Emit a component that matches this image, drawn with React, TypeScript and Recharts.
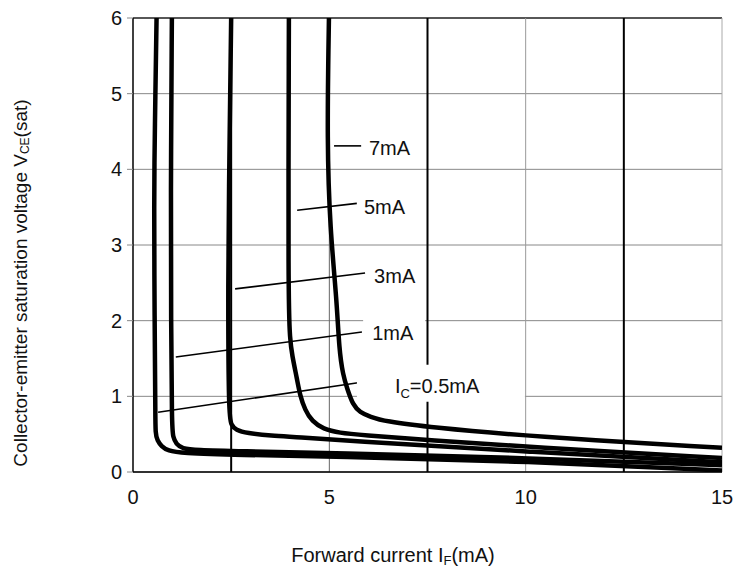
import React from "react";
import {
  ComposedChart,
  Line,
  XAxis,
  YAxis,
  CartesianGrid,
  ReferenceLine,
  ReferenceDot,
} from "recharts";

const FONT = "'Liberation Sans', Arial, Helvetica, sans-serif";

// Forward current IF (mA) -> VCE(sat) (V), one curve per collector current
const ic05 = [
  { f: 0.6, v: 6.0 }, { f: 0.555, v: 4.5 }, { f: 0.535, v: 3.6 }, { f: 0.55, v: 2.0 },
  { f: 0.57, v: 0.8 }, { f: 0.57, v: 0.5 }, { f: 0.62, v: 0.42 }, { f: 0.72, v: 0.34 },
  { f: 0.9, v: 0.28 }, { f: 1.2, v: 0.25 }, { f: 2.7, v: 0.225 }, { f: 5.0, v: 0.205 },
  { f: 10.1, v: 0.14 }, { f: 15, v: 0.02 },
];
const ic1 = [
  { f: 0.99, v: 6.0 }, { f: 0.96, v: 3.6 }, { f: 0.97, v: 2.0 }, { f: 0.99, v: 0.6 },
  { f: 1.02, v: 0.46 }, { f: 1.1, v: 0.37 }, { f: 1.25, v: 0.31 }, { f: 1.6, v: 0.29 },
  { f: 2.7, v: 0.275 }, { f: 5.0, v: 0.25 }, { f: 10.1, v: 0.185 }, { f: 15, v: 0.09 },
];
const ic3 = [
  { f: 2.5, v: 6.0 }, { f: 2.44, v: 3.6 }, { f: 2.42, v: 2.27 }, { f: 2.44, v: 0.75 },
  { f: 2.5, v: 0.62 }, { f: 2.62, v: 0.555 }, { f: 2.9, v: 0.515 }, { f: 3.5, v: 0.48 },
  { f: 4.25, v: 0.46 }, { f: 5.27, v: 0.42 }, { f: 10.1, v: 0.265 }, { f: 15, v: 0.13 },
];
const ic5 = [
  { f: 3.97, v: 6.0 }, { f: 3.95, v: 2.27 }, { f: 4.0, v: 1.74 }, { f: 4.05, v: 1.55 },
  { f: 4.18, v: 1.22 }, { f: 4.25, v: 1.02 }, { f: 4.38, v: 0.82 }, { f: 4.56, v: 0.67 },
  { f: 4.84, v: 0.57 }, { f: 5.27, v: 0.515 }, { f: 5.78, v: 0.49 }, { f: 7.56, v: 0.42 },
  { f: 10.1, v: 0.33 }, { f: 15, v: 0.185 },
];
const ic7 = [
  { f: 4.99, v: 6.0 }, { f: 4.94, v: 4.35 }, { f: 5.02, v: 3.2 }, { f: 5.19, v: 2.27 },
  { f: 5.25, v: 1.61 }, { f: 5.35, v: 1.28 }, { f: 5.45, v: 1.11 }, { f: 5.6, v: 0.885 },
  { f: 5.78, v: 0.79 }, { f: 6.04, v: 0.73 }, { f: 6.42, v: 0.67 }, { f: 7.56, v: 0.59 },
  { f: 10.1, v: 0.47 }, { f: 15, v: 0.32 },
];
const curves = [ic05, ic1, ic3, ic5, ic7];

const xTicks = [0, 5, 10, 15];
const yTicks = [0, 1, 2, 3, 4, 5, 6];

// vertical grid lines (the 2.5 / 7.5 / 12.5 ones are black in the original)
const gridX = [2.5, 5, 7.5, 10, 12.5, 15];
const gridXStyle: Record<number, { stroke: string; w: number }> = {
  2.5: { stroke: "#000", w: 2 },
  5: { stroke: "#666", w: 1 },
  7.5: { stroke: "#000", w: 2 },
  10: { stroke: "#999", w: 1 },
  12.5: { stroke: "#000", w: 2 },
  15: { stroke: "#aaa", w: 1 },
};

// leader lines from label to curve
const leaders = [
  [{ x: 5.12, y: 4.31 }, { x: 5.81, y: 4.31 }],
  [{ x: 4.18, y: 3.46 }, { x: 5.7, y: 3.55 }],
  [{ x: 2.6, y: 2.42 }, { x: 5.91, y: 2.63 }],
  [{ x: 1.09, y: 1.52 }, { x: 5.83, y: 1.85 }],
  [{ x: 0.64, y: 0.79 }, { x: 5.73, y: 1.18 }],
];

// curve labels: text start (x) and vertical centre (y)
const labels = [
  { main: "7mA", sub: "", x: 6.01, y: 4.28 },
  { main: "5mA", sub: "", x: 5.88, y: 3.5 },
  { main: "3mA", sub: "", x: 6.14, y: 2.59 },
  { main: "1mA", sub: "", x: 6.09, y: 1.84 },
  { main: "=0.5mA", sub: "C", x: 6.67, y: 1.14 },
];
// white box behind each label, px relative to the text anchor
const labelBox = [
  { l: 6, r: 50, t: 15, b: 15 },
  { l: 6, r: 50, t: 15, b: 15 },
  { l: 6, r: 50, t: 15, b: 15 },
  { l: 9, r: 53, t: 16, b: 16 },
  { l: 38, r: 130, t: 21, b: 16 },
];

const CurveLabel = (props: any) => {
  const { cx, cy, idx } = props;
  const lb = labels[idx];
  const box = labelBox[idx];
  return (
    <g>
      <rect x={cx - box.l} y={cy - box.t} width={box.l + box.r} height={box.t + box.b} fill="#fff" />
      <text x={cx} y={cy} dy={7} fontSize={20} fontFamily={FONT} fill="#111">
        {lb.sub ? (
          <>
            <tspan>I</tspan>
            <tspan fontSize={13} dy={5}>{lb.sub}</tspan>
            <tspan dy={-5}>{lb.main}</tspan>
          </>
        ) : (
          lb.main
        )}
      </text>
    </g>
  );
};

const YTitle = ({ viewBox }: any) => {
  const x = viewBox.x + 20;
  const y = viewBox.y + viewBox.height / 2 + 38;
  return (
    <text x={x} y={y} transform={`rotate(-90 ${x} ${y})`} textAnchor="middle" dominantBaseline="central"
      fontSize={19} fontFamily={FONT} fill="#111">
      <tspan>Collector-emitter saturation voltage V</tspan>
      <tspan fontSize={12} dy={5}>CE</tspan>
      <tspan dy={-5}>(sat)</tspan>
    </text>
  );
};

const XTitle = ({ viewBox }: any) => {
  const x = viewBox.x + 260;
  const y = viewBox.y + 83;
  return (
    <text x={x} y={y} textAnchor="middle" dominantBaseline="central" fontSize={20} fontFamily={FONT} fill="#111">
      <tspan>Forward current I</tspan>
      <tspan fontSize={13} dy={5}>F</tspan>
      <tspan dy={-5}>(mA)</tspan>
    </text>
  );
};

export default function App() {
  return (
    <div style={{ position: "absolute", left: 0, top: 0, background: "#fff" }}>
      <ComposedChart width={735} height={574} margin={{ top: 18, right: 13, left: 0, bottom: 0 }}>
        <CartesianGrid vertical={false} stroke="#888" strokeWidth={1} />
        <XAxis
          dataKey="f"
          type="number"
          domain={[0, 15]}
          ticks={xTicks}
          allowDataOverflow
          height={102}
          tickLine={false}
          tickSize={8}
          tickMargin={10}
          axisLine={{ stroke: "#000", strokeWidth: 1.5 }}
          tick={{ fontSize: 20, fontFamily: FONT, fill: "#111" }}
          label={{ content: <XTitle /> }}
        />
        <YAxis
          type="number"
          domain={[0, 6]}
          ticks={yTicks}
          allowDataOverflow
          width={133}
          tickSize={6}
          tickMargin={5}
          tickLine={{ stroke: "#888" }}
          axisLine={{ stroke: "#000", strokeWidth: 1.5 }}
          tick={{ fontSize: 20, fontFamily: FONT, fill: "#111" }}
          label={{ content: <YTitle /> }}
        />
        <ReferenceLine y={6} stroke="#333" strokeWidth={1.5} />
        {gridX.map((g) => (
          <ReferenceLine key={`gx-${g}`} x={g} stroke={gridXStyle[g].stroke} strokeWidth={gridXStyle[g].w} />
        ))}
        {leaders.map((seg, i) => (
          <ReferenceLine key={`ld-${i}`} segment={seg} stroke="#000" strokeWidth={1.6} />
        ))}
        {labels.map((lb, i) => (
          <ReferenceDot key={`lb-${i}`} x={lb.x} y={lb.y} r={0} shape={(p: any) => <CurveLabel {...p} idx={i} />} />
        ))}
        {curves.map((c, i) => (
          <Line
            key={`c-${i}`}
            data={c}
            dataKey="v"
            type="basis"
            stroke="#000"
            strokeWidth={4.5}
            dot={false}
            activeDot={false}
            isAnimationActive={false}
          />
        ))}
      </ComposedChart>
    </div>
  );
}
